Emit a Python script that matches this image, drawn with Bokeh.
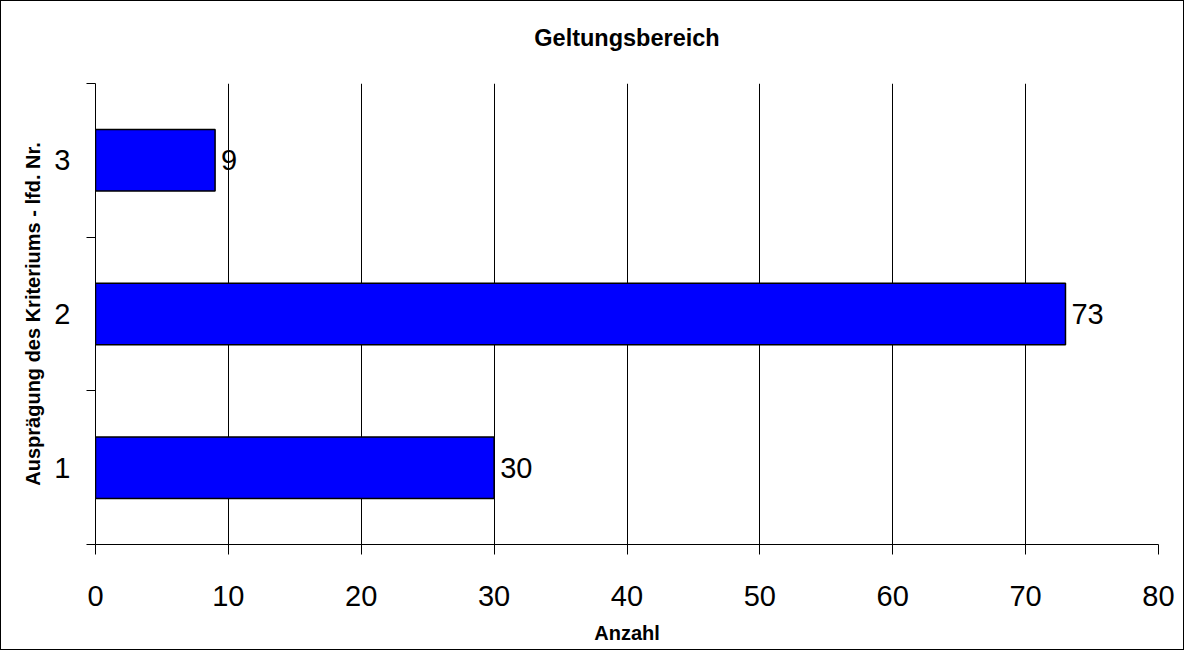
from bokeh.plotting import figure
from bokeh.models import Range1d, LinearAxis, FixedTicker, ColumnDataSource, Title
from bokeh.core.properties import value
from bokeh.embed import file_html
from bokeh.resources import INLINE

# Data
categories = [1, 2, 3]
counts = [30, 73, 9]
category_labels = ["1", "2", "3"]
x_ticks = [0, 10, 20, 30, 40, 50, 60, 70, 80]
title_text = "Geltungsbereich"
x_label = "Anzahl"
y_label = "Ausprägung des Kriteriums - lfd. Nr."

FONT = "Liberation Sans"

src = ColumnDataSource(dict(y=categories, right=counts, label=[str(c) for c in counts]))

p = figure(width=1184, height=650, output_backend="svg", toolbar_location=None,
           x_range=Range1d(0, 80), y_range=Range1d(0.5, 3.5),
           min_border_left=94, min_border_right=27, min_border_top=82, min_border_bottom=107)
p.styles = {"border": "1px solid black"}
p.outline_line_color = None
p.background_fill_color = "white"
p.border_fill_color = "white"

# title
p.title.text = title_text
p.title.align = "center"
p.title.text_font = FONT
p.title.text_font_style = "bold"
p.title.text_font_size = "23.5px"
p.title.text_color = "black"
p.title.standoff = 0

# spacer between title and plot area
spacer = Title(text=" ", text_font_size="28px", standoff=0, text_color="white")
p.add_layout(spacer, "above")

# bars
p.hbar(y="y", right="right", left=0, height=0.4, source=src,
       fill_color="#0000FF", line_color="black", line_width=1.5)
p.text(x="right", y="y", text="label", source=src, x_offset=6,
       text_baseline="middle", text_align="left",
       text_font=value(FONT), text_font_size="29px", text_color="black")

# x axis
xa = p.xaxis[0]
xa.ticker = FixedTicker(ticks=x_ticks)
xa.minor_tick_line_color = None
xa.major_tick_out = 10
xa.major_tick_in = 0
xa.major_label_standoff = 31
xa.major_label_text_font = FONT
xa.major_label_text_font_size = "29px"
xa.major_label_text_color = "black"
xa.axis_line_color = "black"
xa.major_tick_line_color = "black"
xa.axis_label = x_label
xa.axis_label_text_font = FONT
xa.axis_label_text_font_style = "bold"
xa.axis_label_text_font_size = "20px"
xa.axis_label_text_color = "black"
xa.axis_label_standoff = 13

# inner y axis: tick marks at category boundaries
ya = p.yaxis[0]
ya.ticker = FixedTicker(ticks=[0.5, 1.5, 2.5, 3.5])
ya.major_label_overrides = {0.5: "", 1.5: "", 2.5: "", 3.5: ""}
ya.major_label_standoff = 0
ya.major_label_text_font_size = "1px"
ya.minor_tick_line_color = None
ya.major_tick_out = 9
ya.major_tick_in = 0
ya.axis_line_color = "black"
ya.major_tick_line_color = "black"

# outer y axis: category labels
ya2 = LinearAxis(ticker=FixedTicker(ticks=categories),
                 major_label_overrides={c: l for c, l in zip(categories, category_labels)})
ya2.axis_line_color = None
ya2.major_tick_line_color = None
ya2.minor_tick_line_color = None
ya2.major_tick_out = 0
ya2.major_tick_in = 0
ya2.major_label_standoff = 16
ya2.major_label_text_font = FONT
ya2.major_label_text_font_size = "29px"
ya2.major_label_text_color = "black"
ya2.major_label_orientation = "horizontal"
ya2.axis_label = y_label
ya2.axis_label_text_font = FONT
ya2.axis_label_text_font_style = "bold"
ya2.axis_label_text_font_size = "20px"
ya2.axis_label_text_color = "black"
ya2.axis_label_standoff = 7
p.add_layout(ya2, "left")

# grids
p.ygrid.grid_line_color = None
p.xgrid.ticker = FixedTicker(ticks=x_ticks)
p.xgrid.grid_line_color = "black"
p.xgrid.grid_line_width = 1

open("out.html", "w").write(file_html(p, INLINE))
